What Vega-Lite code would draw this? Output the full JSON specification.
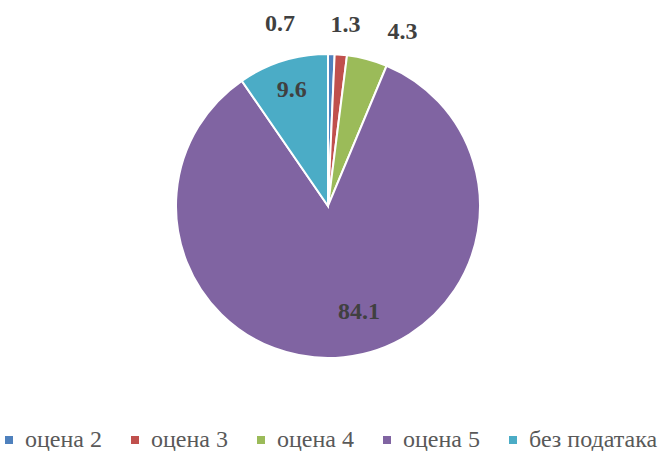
{
  "$schema": "https://vega.github.io/schema/vega-lite/v6.json",
  "width": 656,
  "height": 412,
  "autosize": "none",
  "padding": {"left": 0, "top": 0, "right": 9, "bottom": 39},
  "background": "white",
  "config": {"view": {"stroke": null}, "font": "Liberation Serif"},
  "data": {
    "values": [
      {"cat": "оцена 2", "value": 0.7, "idx": 1},
      {"cat": "оцена 3", "value": 1.3, "idx": 2},
      {"cat": "оцена 4", "value": 4.3, "idx": 3},
      {"cat": "оцена 5", "value": 84.1, "idx": 4},
      {"cat": "без података", "value": 9.6, "idx": 5}
    ]
  },
  "encoding": {
    "theta": {"field": "value", "type": "quantitative", "stack": true},
    "order": {"field": "idx", "type": "quantitative"}
  },
  "layer": [
    {
      "mark": {"type": "arc", "outerRadius": 152, "stroke": "white", "strokeWidth": 2},
      "encoding": {
        "color": {
          "field": "cat",
          "type": "nominal",
          "scale": {
            "domain": ["оцена 2", "оцена 3", "оцена 4", "оцена 5", "без података"],
            "range": ["#4F81BD", "#C0504D", "#9BBB59", "#8064A2", "#4BACC6"]
          },
          "sort": ["оцена 2", "оцена 3", "оцена 4", "оцена 5", "без података"],
          "legend": {
            "title": null,
            "orient": "none",
            "direction": "horizontal",
            "legendX": -3,
            "legendY": 428,
            "padding": 0,
            "symbolType": "square",
            "symbolSize": 64,
            "symbolStrokeWidth": 0,
            "labelFont": "Liberation Serif",
            "labelFontSize": 24,
            "labelColor": "#595959",
            "labelOffset": 4,
            "columnPadding": 21,
            "labelLimit": 300
          }
        }
      }
    },
    {
      "mark": {"type": "text", "radius": 182, "dx": -52, "font": "Liberation Serif", "fontSize": 24, "fontWeight": "bold", "fill": "#404040", "baseline": "middle", "align": "center"},
      "encoding": {"text": {"condition": {"test": "datum.cat === 'оцена 2'", "field": "value", "type": "quantitative", "format": ".1f"}, "value": ""}}
    },
    {
      "mark": {"type": "text", "radius": 182, "dx": 2, "font": "Liberation Serif", "fontSize": 24, "fontWeight": "bold", "fill": "#404040", "baseline": "middle", "align": "center"},
      "encoding": {"text": {"condition": {"test": "datum.cat === 'оцена 3'", "field": "value", "type": "quantitative", "format": ".1f"}, "value": ""}}
    },
    {
      "mark": {"type": "text", "radius": 180, "dx": 28, "font": "Liberation Serif", "fontSize": 24, "fontWeight": "bold", "fill": "#404040", "baseline": "middle", "align": "center"},
      "encoding": {"text": {"condition": {"test": "datum.cat === 'оцена 4'", "field": "value", "type": "quantitative", "format": ".1f"}, "value": ""}}
    },
    {
      "mark": {"type": "text", "radius": 107, "dx": 20, "font": "Liberation Serif", "fontSize": 24, "fontWeight": "bold", "fill": "#404040", "baseline": "middle", "align": "center"},
      "encoding": {"text": {"condition": {"test": "datum.cat === 'оцена 5'", "field": "value", "type": "quantitative", "format": ".1f"}, "value": ""}}
    },
    {
      "mark": {"type": "text", "radius": 122, "font": "Liberation Serif", "fontSize": 24, "fontWeight": "bold", "fill": "#404040", "baseline": "middle", "align": "center"},
      "encoding": {"text": {"condition": {"test": "datum.cat === 'без података'", "field": "value", "type": "quantitative", "format": ".1f"}, "value": ""}}
    }
  ]
}
